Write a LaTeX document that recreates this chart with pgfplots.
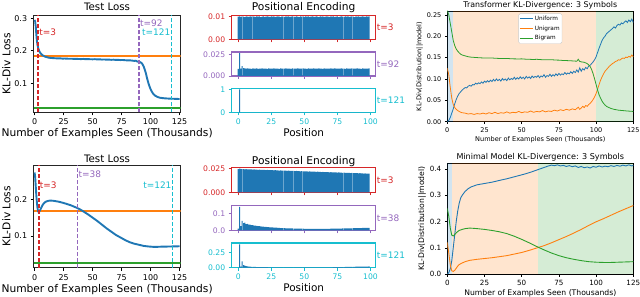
\documentclass[border=0pt]{standalone}
\usepackage{pgfplots}
\pgfplotsset{compat=1.18}
\usepackage{pgfplotstable}
\usepackage{fontspec}
\setmainfont{DejaVu Sans}
\definecolor{tabblue}{HTML}{1F77B4}
\definecolor{taborange}{HTML}{FF7F0E}
\definecolor{tabgreen}{HTML}{2CA02C}
\definecolor{tabred}{HTML}{D62728}
\definecolor{tabpurple}{HTML}{9467BD}
\definecolor{tabcyan}{HTML}{17BECF}
\newcommand{\fs}[1]{\fontsize{#1}{#1}\selectfont}

\pgfplotstableread{
pos m1 m2 m3 m4 m5 m6
0 .0099 .0085 0 .0246 .0100 .000
1 .0100 .0270 1 .0250 .1380 .390
2 .0098 .0088 0 .0247 .0250 .020
3 .0100 .0115 0 .0245 .0560 .105
4 .0099 .0092 0 .0246 .0420 .045
5 .0097 .0090 0 .0244 .0450 .035
6 .0100 .0087 0 .0245 .0360 .025
7 .0099 .0089 0 .0243 .0380 .022
8 .0098 .0086 0 .0244 .0330 .018
9 .0100 .0088 0 .0242 .0340 .016
10 .0099 .0085 0 .0243 .0300 .014
11 .0100 .0089 0 .0241 .0300 .013
12 .0099 .0087 0 .0242 .0280 .012
13 .0098 .0086 0 .0240 .0270 .012
14 .0100 .0090 0 .0241 .0260 .011
15 .0099 .0085 0 .0239 .0250 .011
16 .0100 .0088 0 .0240 .0240 .010
17 .0097 .0087 0 .0238 .0230 .010
18 .0099 .0089 0 .0239 .0220 .009
19 .0100 .0086 0 .0237 .0210 .009
20 .0098 .0088 0 .0238 .0200 .008
21 .0099 .0087 0 .0236 .0195 .008
22 .0100 .0085 0 .0237 .0190 .008
23 .0099 .0089 0 .0235 .0180 .007
24 .0098 .0086 0 .0236 .0175 .007
25 .0100 .0088 0 .0234 .0170 .007
26 .0099 .0087 0 .0235 .0165 .006
27 .0100 .0090 0 .0233 .0160 .006
28 .0098 .0086 0 .0234 .0155 .006
29 .0099 .0088 0 .0232 .0150 .006
30 .0100 .0087 0 .0233 .0145 .005
31 .0099 .0085 0 .0231 .0140 .005
32 .0097 .0089 0 .0232 .0135 .005
33 .0100 .0086 0 .0230 .0130 .005
34 .0099 .0088 0 .0231 .0127 .005
35 .0098 .0087 0 .0229 .0124 .005
36 .0100 .0089 0 .0230 .0120 .004
37 .0099 .0086 0 .0228 .0117 .004
38 .0100 .0088 0 .0229 .0114 .004
39 .0098 .0087 0 .0227 .0111 .004
40 .0099 .0085 0 .0228 .0108 .004
41 .0100 .0089 0 .0226 .0106 .004
42 .0099 .0087 0 .0227 .0104 .004
43 .0098 .0086 0 .0225 .0102 .004
44 .0100 .0088 0 .0226 .0100 .004
45 .0099 .0090 0 .0224 .0098 .004
46 .0097 .0086 0 .0225 .0096 .004
47 .0100 .0088 0 .0223 .0094 .004
48 .0099 .0087 0 .0224 .0093 .004
49 .0100 .0089 0 .0222 .0092 .004
50 .0098 .0086 0 .0223 .0091 .004
51 .0100 .0088 0 .0221 .0090 .004
52 .0099 .0085 0 .0222 .0089 .004
53 .0100 .0089 0 .0220 .0088 .004
54 .0098 .0087 0 .0221 .0087 .004
55 .0099 .0086 0 .0219 .0087 .004
56 .0100 .0088 0 .0220 .0086 .004
57 .0099 .0090 0 .0218 .0086 .004
58 .0098 .0086 0 .0219 .0085 .005
59 .0100 .0088 0 .0217 .0085 .005
60 .0099 .0087 0 .0218 .0085 .005
61 .0097 .0089 0 .0216 .0085 .005
62 .0100 .0086 0 .0217 .0086 .005
63 .0099 .0088 0 .0215 .0086 .005
64 .0100 .0085 0 .0216 .0087 .005
65 .0098 .0089 0 .0214 .0087 .006
66 .0099 .0087 0 .0215 .0088 .006
67 .0100 .0086 0 .0213 .0089 .006
68 .0099 .0088 0 .0214 .0090 .006
69 .0098 .0087 0 .0212 .0091 .007
70 .0100 .0089 0 .0213 .0092 .007
71 .0099 .0086 0 .0211 .0093 .007
72 .0100 .0088 0 .0212 .0094 .008
73 .0098 .0090 0 .0210 .0095 .008
74 .0099 .0087 0 .0211 .0097 .008
75 .0100 .0086 0 .0209 .0098 .009
76 .0097 .0088 0 .0210 .0100 .009
77 .0099 .0087 0 .0208 .0102 .010
78 .0100 .0089 0 .0209 .0104 .010
79 .0099 .0086 0 .0207 .0106 .011
80 .0098 .0088 0 .0208 .0108 .011
81 .0100 .0085 0 .0206 .0110 .012
82 .0099 .0089 0 .0207 .0112 .012
83 .0100 .0087 0 .0205 .0114 .013
84 .0098 .0086 0 .0206 .0116 .013
85 .0099 .0088 0 .0204 .0118 .014
86 .0100 .0090 0 .0205 .0120 .014
87 .0099 .0086 0 .0203 .0122 .015
88 .0097 .0088 0 .0204 .0124 .015
89 .0100 .0087 0 .0202 .0126 .016
90 .0099 .0089 0 .0203 .0128 .016
91 .0100 .0086 0 .0201 .0130 .017
92 .0098 .0088 0 .0202 .0132 .017
93 .0099 .0085 0 .0200 .0134 .018
94 .0100 .0089 0 .0201 .0136 .018
95 .0099 .0087 0 .0199 .0138 .019
96 .0098 .0086 0 .0200 .0140 .019
97 .0100 .0088 0 .0198 .0142 .020
98 .0099 .0087 0 .0199 .0144 .020
99 .0100 .0089 0 .0197 .0146 .021
}\bars

\tikzset{tlab/.style={font=\fs{9}, inner sep=1bp}}
\pgfplotsset{
  base/.style={scale only axis, anchor=south west,
    axis line style={line width=0.9pt, black!85},
    tick align=outside, major tick length=3bp,
    tick style={line width=0.7pt, black},
    /pgf/number format/assume math mode=true, scaled ticks=false,
    tick pos=left},
  ttl/.style={title style={at={(0.5,1)}, anchor=base, yshift=#1}},
  leftp/.style={base, width=147bp, xmin=-0.86, xmax=125.86,
    xtick={0,25,50,75,100,125},
    tick label style={font=\fs{8}},
    label style={font=\fs{10.7}},
    title style={font=\fs{10.3}},
    xlabel={Number of Examples Seen (Thousands)},
    ylabel={KL-Div Loss},
    xlabel style={yshift=3bp},
    ylabel style={yshift=-3bp},
    title={Test Loss}},
  midp/.style={base, width=144bp, xmin=-4.95, xmax=103.95, ymin=0,
    clip=false, xtick={0,25,50,75,100},
    tick label style={font=\fs{7.7}},
    axis line style={#1, line width=1.1pt},
    tick style={#1, line width=0.7pt},
    xticklabel style={text=#1}, yticklabel style={text=#1}},
  rightp/.style={base, width=186bp, height=110.7bp, xmin=0, xmax=125, ymin=0,
    xtick={0,25,50,75,100,125}, axis line style={line width=0.6pt, black},
    major tick length=2.5bp, tick style={line width=0.5pt},
    xlabel={Number of Examples Seen (Thousands)},
    ylabel={KL-Div(Distribution||model)}},
  bars/.style={ybar, bar width=0.8, bar shift=0pt, fill=tabblue, draw=none},
  hl/.style={line width=1.9pt},
  vl/.style={line width=1.7pt, dash pattern=on 4bp off 2bp},
}

\begin{document}
\begin{tikzpicture}
\path[use as bounding box] (0,0) rectangle (640bp,297bp);

% ---------- Top-left: Test Loss ----------
\begin{axis}[leftp, ttl=-1.7bp, at={(33.6bp,184.7bp)}, height=97.3bp,
  ymin=0.011, ymax=0.31, ytick={0.1,0.2,0.3}, yticklabels={0.1,0.2,0.3}]
\addplot[taborange, hl] coordinates {(-0.86,0.1837)(125.86,0.1837)};
\addplot[tabgreen, hl] coordinates {(-0.86,0.025)(125.86,0.025)};
\addplot[tabblue, hl] coordinates {
(0,0.295)(0.5,0.29)(1,0.275)(1.5,0.25)(2,0.23)(2.5,0.218)(3,0.21)(3.5,0.204)(4,0.199)(5,0.193)
(6,0.189)(7,0.186)(8,0.184)(9,0.182)(10,0.181)(12,0.179)(14,0.178)(16,0.1775)(18,0.177)(20,0.1765)
(22,0.1768)(24,0.176)(26,0.1762)(28,0.1758)(30,0.1755)(32,0.1757)(34,0.175)(36,0.1753)(38,0.1748)(40,0.1745)
(42,0.175)(44,0.1742)(46,0.1745)(48,0.174)(50,0.1738)(52,0.1742)(54,0.1735)(56,0.1738)(58,0.173)(60,0.1733)
(62,0.1728)(64,0.173)(66,0.1722)(68,0.1727)(70,0.172)(72,0.1722)(74,0.1715)(76,0.1718)(78,0.171)(80,0.1705)
(82,0.1708)(84,0.1698)(86,0.169)(87,0.1695)(88,0.168)(89,0.1665)(90,0.167)(91,0.165)(92,0.163)(93,0.159)
(94,0.152)(95,0.142)(96,0.13)(97,0.115)(98,0.102)(99,0.091)(100,0.082)(101,0.075)(102,0.069)(103,0.065)
(104,0.062)(105,0.06)(106,0.058)(107,0.0568)(108,0.0558)(110,0.0548)(112,0.054)(114,0.0535)(116,0.053)(118,0.0528)
(120,0.0525)(122,0.0522)(124,0.052)(125,0.0518)};
\addplot[tabred, vl] coordinates {(3,0.011)(3,0.31)};
\addplot[tabpurple, vl] coordinates {(90,0.011)(90,0.31)};
\addplot[tabcyan, vl] coordinates {(118,0.011)(118,0.31)};
\node[tlab, text=tabred, anchor=west] at (axis cs:3,0.256) {t=3};
\node[tlab, text=tabpurple, anchor=west] at (axis cs:90,0.284) {t=92};
\node[tlab, text=tabcyan, anchor=east] at (axis cs:118,0.256) {t=121};
\end{axis}

% ---------- Bottom-left: Test Loss ----------
\begin{axis}[leftp, ttl=-3.5bp, at={(33.6bp,29.3bp)}, height=102.7bp,
  ymin=0.0136, ymax=0.2935, ytick={0.1,0.2}, yticklabels={0.1,0.2}]
\addplot[taborange, hl] coordinates {(-0.86,0.167)(125.86,0.167)};
\addplot[tabgreen, hl] coordinates {(-0.86,0.0256)(125.86,0.0256)};
\addplot[tabblue, hl] coordinates {
(0,0.273)(0.5,0.26)(1,0.235)(1.5,0.21)(2,0.19)(2.5,0.176)(3,0.168)(3.5,0.165)(4,0.166)(5,0.172)
(6,0.179)(7,0.185)(8,0.189)(9,0.192)(10,0.194)(12,0.196)(14,0.1965)(16,0.196)(18,0.195)(20,0.194)
(22,0.1925)(25,0.19)(28,0.187)(31,0.184)(34,0.18)(37,0.176)(40,0.171)(43,0.165)(46,0.159)(50,0.15)
(54,0.141)(58,0.131)(62,0.121)(66,0.112)(70,0.103)(74,0.096)(78,0.089)(82,0.083)(86,0.079)(90,0.076)
(94,0.073)(98,0.0715)(102,0.0705)(106,0.0705)(110,0.071)(114,0.0712)(118,0.0715)(122,0.0718)(125,0.072)};
\addplot[tabred, vl] coordinates {(3.5,0.0136)(3.5,0.2935)};
\addplot[tabpurple, vl] coordinates {(37,0.0136)(37,0.2935)};
\addplot[tabcyan, vl] coordinates {(119,0.0136)(119,0.2935)};
\node[tlab, text=tabred, anchor=west] at (axis cs:3.5,0.239) {t=3};
\node[tlab, text=tabpurple, anchor=west] at (axis cs:37,0.268) {t=38};
\node[tlab, text=tabcyan, anchor=east] at (axis cs:119,0.239) {t=121};
\end{axis}

% ---------- Middle top ----------
\begin{axis}[midp=tabred, at={(231.7bp,257.7bp)}, height=24bp, ymax=0.0105,
  ytick={0,0.01}, yticklabels={0.00,0.01}, xticklabels={},
  title={Positional Encoding}, title style={font=\fs{10.7}}, ttl=-0.7bp]
\addplot[bars] table[x=pos, y=m1] {\bars};
\node[tlab, text=tabred, anchor=west] at (rel axis cs:1,0.5) {t=3};
\end{axis}
\begin{axis}[midp=tabpurple, at={(231.7bp,221bp)}, height=24bp, ymax=0.0282,
  ytick={0,0.025}, yticklabels={0.000,0.025}, xticklabels={}]
\addplot[bars] table[x=pos, y=m2] {\bars};
\node[tlab, text=tabpurple, anchor=west] at (rel axis cs:1,0.5) {t=92};
\end{axis}
\begin{axis}[midp=tabcyan, at={(231.7bp,184.7bp)}, height=24bp, ymax=1.05,
  ytick={0,1}, yticklabels={0,1}, xticklabels={0,25,50,75,100},
  xlabel={Position}, xlabel style={font=\fs{10.5}, yshift=3bp}]
\addplot[bars] table[x=pos, y=m3] {\bars};
\node[tlab, text=tabcyan, anchor=west] at (rel axis cs:1,0.5) {t=121};
\end{axis}

% ---------- Middle bottom ----------
\begin{axis}[midp=tabred, at={(231.7bp,104.7bp)}, height=25bp, ymax=0.0265,
  ytick={0,0.025}, yticklabels={0.000,0.025}, xticklabels={},
  title={Positional Encoding}, title style={font=\fs{10.7}}, ttl=-2.7bp]
\addplot[bars] table[x=pos, y=m4] {\bars};
\node[tlab, text=tabred, anchor=west] at (rel axis cs:1,0.5) {t=3};
\end{axis}
\begin{axis}[midp=tabpurple, at={(231.7bp,66.7bp)}, height=24.6bp, ymax=0.1447,
  ytick={0,0.1}, yticklabels={0.0,0.1}, xticklabels={}]
\addplot[bars] table[x=pos, y=m5] {\bars};
\node[tlab, text=tabpurple, anchor=west] at (rel axis cs:1,0.5) {t=38};
\end{axis}
\begin{axis}[midp=tabcyan, at={(231.7bp,29.3bp)}, height=24.7bp, ymax=0.414,
  ytick={0,0.25}, yticklabels={0.00,0.25}, xticklabels={0,25,50,75,100},
  xlabel={Position}, xlabel style={font=\fs{10.5}, yshift=3bp}]
\addplot[bars] table[x=pos, y=m6] {\bars};
\node[tlab, text=tabcyan, anchor=west] at (rel axis cs:1,0.5) {t=121};
\end{axis}

% ---------- Right top ----------
\begin{axis}[rightp, at={(447.3bp,175.3bp)}, ymax=0.259,
  ytick={0,0.05,0.1,0.15,0.2,0.25}, yticklabels={0.00,0.05,0.10,0.15,0.20,0.25},
  tick label style={font=\fs{6.5}}, label style={font=\fs{6.6}},
  title={Transformer KL-Divergence: 3 Symbols}, title style={font=\fs{7.9}}, ttl=-2.3bp,
  xlabel style={yshift=3bp}, ylabel style={yshift=-3bp},
  legend style={at={(0.5,0.978)}, anchor=north, font=\fs{5.8}, draw=black!20,
    rounded corners=1.5pt, inner sep=0.8bp, row sep=0.8bp,
    nodes={inner sep=1.5bp, text height=4.5bp, text depth=1.4bp}},
  legend cell align=left,
  legend image code/.code={\draw[#1, line width=1pt] (0bp,0bp) -- (13bp,0bp);}]
\addplot[forget plot, draw=none, fill=tabblue, fill opacity=0.2] coordinates {(0,0.259)(4,0.259)} \closedcycle;
\addplot[forget plot, draw=none, fill=taborange, fill opacity=0.2] coordinates {(4,0.259)(100,0.259)} \closedcycle;
\addplot[forget plot, draw=none, fill=tabgreen, fill opacity=0.2] coordinates {(100,0.259)(125,0.259)} \closedcycle;
\addplot[tabblue, line width=0.8pt] coordinates {
(0,0.0)(1,0.003)(2,0.01)(3,0.02)(4,0.03)(5,0.042)(6,0.052)(7,0.06)(8,0.066)(9,0.07)(10,0.074)
(11,0.077)(12,0.08)(13,0.079)(14,0.083)(15,0.085)(16,0.083)(17,0.087)(18,0.086)(19,0.09)(20,0.088)
(21,0.091)(22,0.089)(23,0.093)(24,0.09)(25,0.095)(26,0.092)(27,0.096)(28,0.093)(29,0.097)(30,0.094)
(31,0.099)(32,0.095)(33,0.1)(34,0.096)(35,0.099)(36,0.095)(37,0.101)(38,0.097)(39,0.1)(40,0.096)
(41,0.102)(42,0.098)(43,0.101)(44,0.099)(45,0.104)(46,0.099)(47,0.103)(48,0.1)(49,0.105)(50,0.101)
(51,0.104)(52,0.1)(53,0.106)(54,0.102)(55,0.105)(56,0.101)(57,0.107)(58,0.103)(59,0.106)(60,0.104)
(61,0.108)(62,0.103)(63,0.107)(64,0.105)(65,0.11)(66,0.104)(67,0.108)(68,0.106)(69,0.111)(70,0.106)
(71,0.11)(72,0.107)(73,0.112)(74,0.108)(75,0.113)(76,0.109)(77,0.112)(78,0.11)(79,0.115)(80,0.111)
(81,0.114)(82,0.112)(83,0.117)(84,0.113)(85,0.118)(86,0.115)(87,0.121)(88,0.116)(89,0.126)(90,0.118)
(91,0.124)(92,0.121)(93,0.127)(94,0.124)(95,0.13)(96,0.132)(97,0.136)(98,0.14)(99,0.145)(100,0.152)
(101,0.162)(102,0.172)(103,0.181)(104,0.19)(105,0.196)(106,0.2)(107,0.206)(108,0.209)(109,0.212)(110,0.215)
(111,0.218)(112,0.222)(113,0.219)(114,0.225)(115,0.228)(116,0.226)(117,0.231)(118,0.229)(119,0.233)(120,0.236)
(121,0.232)(122,0.238)(123,0.234)(124,0.24)(125,0.232)};
\addplot[taborange, line width=0.8pt] coordinates {
(0,0.125)(1,0.11)(2,0.08)(3,0.055)(4,0.04)(5,0.033)(6,0.029)(7,0.026)(8,0.024)(9,0.022)(10,0.021)
(12,0.02)(14,0.018)(16,0.019)(18,0.017)(20,0.019)(22,0.018)(24,0.02)(26,0.018)(28,0.021)(30,0.019)
(32,0.022)(34,0.019)(36,0.021)(38,0.02)(40,0.023)(42,0.02)(44,0.022)(46,0.021)(48,0.024)(50,0.021)
(52,0.023)(54,0.022)(56,0.025)(58,0.022)(60,0.024)(62,0.023)(64,0.026)(66,0.023)(68,0.025)(70,0.024)
(72,0.027)(74,0.025)(76,0.028)(78,0.026)(80,0.029)(82,0.027)(84,0.03)(86,0.028)(88,0.034)(89,0.029)
(90,0.032)(91,0.036)(92,0.033)(93,0.038)(94,0.036)(95,0.04)(96,0.043)(97,0.047)(98,0.052)(99,0.058)
(100,0.066)(101,0.076)(102,0.087)(103,0.097)(104,0.105)(105,0.112)(106,0.118)(107,0.122)(108,0.126)(109,0.13)
(110,0.133)(111,0.136)(112,0.138)(113,0.141)(114,0.142)(115,0.145)(116,0.144)(117,0.147)(118,0.149)(119,0.148)
(120,0.151)(121,0.15)(122,0.153)(123,0.151)(124,0.156)(125,0.152)};
\addplot[tabgreen, line width=0.8pt] coordinates {
(0,0.26)(1,0.25)(2,0.23)(3,0.21)(4,0.19)(5,0.178)(6,0.17)(7,0.165)(8,0.161)(9,0.158)(10,0.156)
(12,0.154)(14,0.152)(16,0.151)(18,0.1505)(20,0.15)(22,0.1495)(25,0.149)(28,0.1488)(30,0.149)(33,0.1483)
(35,0.148)(38,0.1478)(40,0.148)(43,0.1472)(45,0.147)(48,0.1468)(50,0.147)(53,0.1462)(55,0.146)(58,0.1455)
(60,0.146)(63,0.1452)(65,0.145)(68,0.1448)(70,0.145)(73,0.1442)(75,0.144)(78,0.1432)(80,0.143)(83,0.1425)
(85,0.142)(87,0.1415)(88,0.146)(89,0.141)(90,0.14)(92,0.139)(94,0.136)(95,0.133)(96,0.129)(97,0.122)
(98,0.112)(99,0.1)(100,0.087)(101,0.074)(102,0.063)(103,0.055)(104,0.048)(105,0.043)(106,0.039)(107,0.036)
(108,0.034)(110,0.031)(112,0.029)(115,0.027)(118,0.026)(121,0.025)(125,0.024)};
\legend{Uniform,Unigram,Bigram}
\end{axis}

% ---------- Right bottom ----------
\begin{axis}[rightp, at={(447.3bp,23bp)}, ymax=0.422,
  ytick={0,0.1,0.2,0.3,0.4}, yticklabels={0.0,0.1,0.2,0.3,0.4},
  tick label style={font=\fs{7.2}}, label style={font=\fs{7.7}},
  title={Minimal Model KL-Divergence: 3 Symbols}, title style={font=\fs{8.1}}, ttl=-1.7bp,
  xlabel style={yshift=3bp}, ylabel style={yshift=-3bp}]
\addplot[draw=none, fill=tabblue, fill opacity=0.2] coordinates {(0,0.422)(3,0.422)} \closedcycle;
\addplot[draw=none, fill=taborange, fill opacity=0.2] coordinates {(3,0.422)(61,0.422)} \closedcycle;
\addplot[draw=none, fill=tabgreen, fill opacity=0.2] coordinates {(61,0.422)(125,0.422)} \closedcycle;
\addplot[tabblue, line width=0.9pt] coordinates {
(0,0.0)(1,0.005)(2,0.02)(3,0.05)(4,0.1)(5,0.15)(6,0.2)(7,0.24)(8,0.27)(9,0.29)(10,0.30)
(12,0.315)(14,0.325)(16,0.332)(18,0.336)(20,0.34)(22,0.342)(25,0.345)(28,0.348)(30,0.35)(33,0.354)
(36,0.358)(40,0.363)(44,0.369)(48,0.375)(52,0.381)(56,0.388)(60,0.396)(63,0.402)(66,0.408)(68,0.412)
(70,0.415)(72,0.413)(74,0.416)(76,0.412)(78,0.414)(80,0.41)(82,0.413)(84,0.409)(86,0.412)(88,0.406)
(90,0.41)(92,0.405)(94,0.408)(96,0.404)(98,0.41)(100,0.407)(102,0.412)(104,0.408)(106,0.411)(108,0.409)
(110,0.413)(112,0.41)(114,0.414)(116,0.411)(118,0.415)(120,0.412)(122,0.416)(124,0.412)(125,0.414)};
\addplot[taborange, line width=0.9pt] coordinates {
(0,0.12)(1,0.08)(2,0.035)(3,0.012)(4,0.01)(5,0.014)(6,0.022)(7,0.03)(8,0.036)(10,0.042)
(12,0.047)(15,0.052)(20,0.056)(25,0.059)(30,0.062)(35,0.066)(40,0.07)(45,0.076)(50,0.082)(55,0.09)
(60,0.099)(65,0.108)(70,0.119)(75,0.131)(80,0.143)(85,0.156)(90,0.17)(95,0.185)(100,0.199)(105,0.211)
(110,0.224)(115,0.237)(120,0.249)(125,0.261)};
\addplot[tabgreen, line width=0.9pt] coordinates {
(0,0.25)(1,0.22)(2,0.175)(3,0.148)(4,0.145)(5,0.15)(6,0.157)(7,0.162)(8,0.166)(10,0.17)
(12,0.173)(15,0.175)(18,0.174)(20,0.173)(25,0.17)(30,0.166)(35,0.161)(40,0.154)(45,0.144)(50,0.132)
(55,0.119)(60,0.105)(65,0.092)(70,0.08)(75,0.07)(80,0.062)(85,0.056)(90,0.051)(95,0.047)(100,0.045)
(105,0.044)(110,0.044)(115,0.045)(120,0.046)(125,0.047)};
\end{axis}
\end{tikzpicture}
\end{document}
